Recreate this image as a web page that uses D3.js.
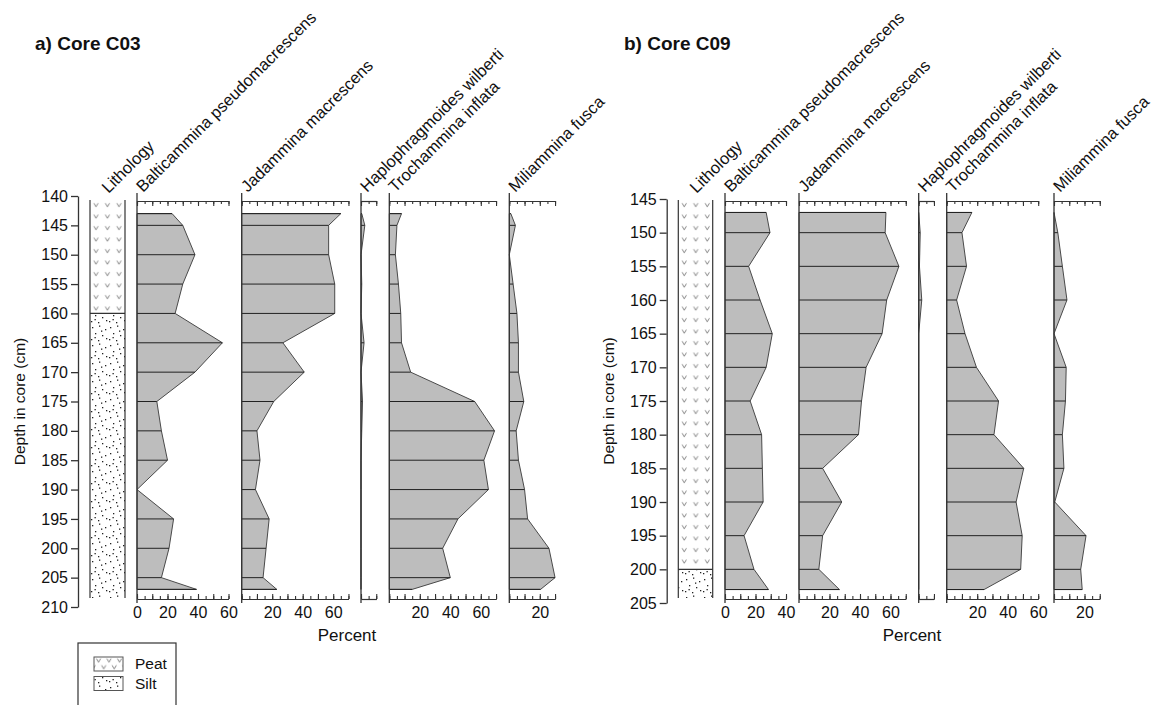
<!DOCTYPE html>
<html>
<head>
<meta charset="utf-8">
<script src="https://cdn.jsdelivr.net/npm/d3@7"></script>
<style>
  body { margin: 0; background: #fff; }
  svg text { font-family: "Liberation Sans", Arial, sans-serif; fill: #111; }
</style>
</head>
<body>
<svg id="chart" width="1160" height="705"></svg>
<script>
// ---- Foraminifera percentages by depth ----
const taxa = ["Balticammina pseudomacrescens", "Jadammina macrescens",
              "Haplophragmoides wilberti", "Trochammina inflata", "Miliammina fusca"];

// Core C03
const depthsC03    = [143, 145, 150, 155, 160, 165, 170, 175, 180, 185, 190, 195, 200, 205, 207];
const balticC03    = [23, 30, 38, 30, 25, 56, 38, 13, 16, 20, 0, 24, 21, 16, 39];
const jadamminaC03 = [65, 57, 57, 61, 61, 27, 41, 21, 10, 12, 9, 18, 16, 14, 23];
const haploC03     = [0.5, 2.5, 0, 0.5, 0, 2, 0, 1, 0.5, 0, 0, 0, 0, 0, 0];
const trochC03     = [8, 5, 4, 6, 7.5, 8, 14, 56, 69, 62, 65, 45, 35, 40, 15];
const miliC03      = [1, 4, 0, 2.5, 5, 6, 6, 9.5, 4.5, 6, 10, 12, 26, 30, 20.5];
const depthTicksC03 = [140, 145, 150, 155, 160, 165, 170, 175, 180, 185, 190, 195, 200, 205, 210];
const pctMaxC03     = [60, 70, 10, 70, 30];
const pctLabelsC03  = [[0, 20, 40, 60], [20, 40, 60], [], [20, 40, 60], [20]];
const lithUnitsC03  = ["Peat", "Silt"];
const lithContactC03 = 160;

// Core C09
const depthsC09    = [147, 150, 155, 160, 165, 170, 175, 180, 185, 190, 195, 200, 203];
const balticC09    = [27, 29.5, 15.5, 23, 31, 27, 16.5, 24, 24.5, 25, 12.5, 19, 28.5];
const jadamminaC09 = [57, 56.5, 65.5, 57.5, 54.5, 44, 41, 39, 15.5, 28, 15.5, 13, 26.5];
const haploC09     = [0, 1, 0.5, 2, 0, 0, 0, 0, 0, 0, 0, 0, 0];
const trochC09     = [16.5, 10, 13, 6.5, 12, 19.5, 34, 31, 50.5, 45.5, 49.5, 48.5, 24.5];
const miliC09      = [0, 2.5, 5.5, 8.5, 0, 8, 7.5, 5.5, 6.5, 0.5, 21, 17.5, 18.5];
const depthTicksC09 = [145, 150, 155, 160, 165, 170, 175, 180, 185, 190, 195, 200, 205];
const pctMaxC09     = [40, 70, 10, 60, 30];
const pctLabelsC09  = [[0, 20, 40], [20, 40, 60], [], [20, 40, 60], [20]];
const lithUnitsC09  = ["Peat", "Silt"];
const lithContactC09 = 200;

// ---- layout ----
const PX_PER_PCT = 1.525;
const FRAME_TOP = 201, FRAME_BOTTOM = 599;
const FONT = '"Liberation Sans", Arial, sans-serif';

const panels = [
  {
    title: "a) Core C03", titleX: 35,
    depths: depthsC03, depthTicks: depthTicksC03,
    yRange: [196, 607], axisX: 78, depthLabelX: 20,
    lith: { x0: 90, x1: 125, units: lithUnitsC03, contact: lithContactC03 },
    series: [balticC03, jadamminaC03, haploC03, trochC03, miliC03],
    colX: [137, 241.7, 361, 389.3, 509.3],
    maxes: pctMaxC03, labels: pctLabelsC03, percentX: 347
  },
  {
    title: "b) Core C09", titleX: 624,
    depths: depthsC09, depthTicks: depthTicksC09,
    yRange: [199, 603], axisX: 666.7, depthLabelX: 609,
    lith: { x0: 678.3, x1: 712.7, units: lithUnitsC09, contact: lithContactC09 },
    series: [balticC09, jadamminaC09, haploC09, trochC09, miliC09],
    colX: [725, 799, 918.7, 946.7, 1054],
    maxes: pctMaxC09, labels: pctLabelsC09, percentX: 912
  }
];

const svg = d3.select("#chart");
const defs = svg.append("defs");

function vMark(sel, cx, cy) {
  sel.append("path")
    .attr("d", `M${cx - 2.1},${cy - 1.8} L${cx},${cy + 1.8} L${cx + 2.1},${cy - 1.8}`)
    .attr("fill", "none").attr("stroke", "#666").attr("stroke-width", 0.8);
}

// Peat (column): rows of "v" marks, anchored to each column's left edge
function peatPattern(id, x0, y0) {
  const pat = defs.append("pattern").attr("id", id)
    .attr("patternUnits", "userSpaceOnUse").attr("width", 11.5).attr("height", 11.5)
    .attr("patternTransform", `translate(${x0},${y0})`);
  vMark(pat, 6, 5);
  return `url(#${id})`;
}
// Peat (legend swatch): staggered "v" marks
const peatKey = defs.append("pattern").attr("id", "peatKey")
  .attr("patternUnits", "userSpaceOnUse").attr("width", 10.5).attr("height", 13.4)
  .attr("patternTransform", "translate(94,657)");
vMark(peatKey, 4.5, 3.4);
vMark(peatKey, 9.75, 10.1);
vMark(peatKey, -0.75, 10.1);

// Silt: scattered fine dots
const silt = defs.append("pattern").attr("id", "silt")
  .attr("patternUnits", "userSpaceOnUse").attr("width", 18).attr("height", 18);
[[2, 3], [9, 1.5], [15, 5], [5, 9], [12, 11], [1, 15], [8, 16], [16, 14], [11, 6.5], [4.5, 13]]
  .forEach(([px, py]) => {
    silt.append("rect").attr("x", px).attr("y", py)
      .attr("width", 1.3).attr("height", 1.3).attr("fill", "#222");
  });

panels.forEach((p, pi) => {
  const g = svg.append("g");
  const y = d3.scaleLinear().domain([p.depthTicks[0], p.depthTicks[p.depthTicks.length - 1]]).range(p.yRange);

  // title
  g.append("text").attr("x", p.titleX).attr("y", 50)
    .attr("font-size", 19).attr("font-weight", "bold").text(p.title);

  // depth axis
  const yAxis = g.append("g").attr("transform", `translate(${p.axisX},0)`)
    .call(d3.axisLeft(y).tickValues(p.depthTicks).tickSize(7).tickSizeOuter(0).tickPadding(3));
  yAxis.selectAll("path, line").attr("stroke", "#333").attr("stroke-width", 1.3);
  yAxis.selectAll("text").attr("font-size", 16).attr("fill", "#111").style("font-family", FONT);

  g.append("text")
    .attr("transform", `translate(${p.depthLabelX},${(p.yRange[0] + p.yRange[1]) / 2}) rotate(-90)`)
    .attr("text-anchor", "middle").attr("dy", "0.35em").attr("font-size", 15.5)
    .text("Depth in core (cm)");

  // lithology column
  const L = p.lith;
  const yTop = FRAME_TOP - 1, yBot = FRAME_BOTTOM - 1, yC = y(L.contact);
  const fills = { Peat: peatPattern("peat" + pi, L.x0, yTop), Silt: "url(#silt)" };
  g.append("rect").attr("x", L.x0).attr("y", yTop).attr("width", L.x1 - L.x0)
    .attr("height", yC - yTop).attr("fill", fills[L.units[0]]);
  g.append("rect").attr("x", L.x0).attr("y", yC).attr("width", L.x1 - L.x0)
    .attr("height", yBot - yC).attr("fill", fills[L.units[1]]);
  [L.x0, L.x1].forEach(xx => g.append("line").attr("x1", xx).attr("x2", xx)
    .attr("y1", yTop).attr("y2", yBot).attr("stroke", "#333").attr("stroke-width", 1.2));
  g.append("line").attr("x1", L.x0).attr("x2", L.x1).attr("y1", yC).attr("y2", yC)
    .attr("stroke", "#333").attr("stroke-width", 1.2);
  g.append("text")
    .attr("transform", `translate(${(L.x0 + L.x1) / 2 + 1},194) rotate(-45)`)
    .attr("font-size", 16.5).text("Lithology");

  // taxon columns
  p.series.forEach((vals, i) => {
    const x0 = p.colX[i];
    const x = d3.scaleLinear().domain([0, p.maxes[i]]).range([x0, x0 + p.maxes[i] * PX_PER_PCT]);
    const pts = p.depths.map((d, j) => ({ d, v: vals[j] }));

    const area = d3.area().x0(x(0)).x1(e => x(e.v)).y(e => y(e.d));
    g.append("path").datum(pts).attr("d", area)
      .attr("fill", "#bdbdbd").attr("stroke", "#4a4a4a").attr("stroke-width", 1);

    g.selectAll(null).data(pts).enter().append("line")
      .attr("x1", x(0)).attr("x2", e => x(e.v))
      .attr("y1", e => y(e.d)).attr("y2", e => y(e.d))
      .attr("stroke", "#222").attr("stroke-width", 1);

    // left baseline
    g.append("line").attr("x1", x0).attr("x2", x0).attr("y1", 193).attr("y2", 603)
      .attr("stroke", "#333").attr("stroke-width", 1.3);

    const minor = d3.range(0, p.maxes[i] + 0.01, 5);
    const major = d3.range(0, p.maxes[i] + 0.01, 10);

    // top scale (ticks pointing down)
    const top = g.append("g").attr("transform", `translate(0,${FRAME_TOP})`)
      .call(d3.axisTop(x).tickValues(minor).tickSize(-3).tickSizeOuter(0).tickFormat(""));
    top.append("g").call(d3.axisTop(x).tickValues(major).tickSize(-5).tickSizeOuter(0).tickFormat(""));
    top.selectAll("path, line").attr("stroke", "#333").attr("stroke-width", 1.1);

    // bottom scale (ticks pointing up, labels below)
    const bot = g.append("g").attr("transform", `translate(0,${FRAME_BOTTOM})`)
      .call(d3.axisBottom(x).tickValues(minor).tickSize(-3).tickSizeOuter(0).tickFormat(""));
    bot.append("g").call(d3.axisBottom(x).tickValues(major).tickSize(-5).tickSizeOuter(0)
      .tickPadding(8).tickFormat(v => p.labels[i].includes(v) ? v : ""));
    bot.selectAll("path, line").attr("stroke", "#333").attr("stroke-width", 1.1);
    bot.selectAll("text").attr("font-size", 16).attr("fill", "#111").style("font-family", FONT);

    // rotated taxon name
    g.append("text")
      .attr("transform", `translate(${x0 + 6},193) rotate(-45)`)
      .attr("font-size", 16.5).text(taxa[i]);
  });

  g.append("text").attr("x", p.percentX).attr("y", 641)
    .attr("text-anchor", "middle").attr("font-size", 17).text("Percent");
});

// legend
const legendFill = { Peat: "url(#peatKey)", Silt: "url(#silt)" };
const leg = svg.append("g");
leg.append("rect").attr("x", 78).attr("y", 643).attr("width", 98).attr("height", 80)
  .attr("fill", "#fff").attr("stroke", "#333").attr("stroke-width", 1.2);
lithUnitsC03.forEach((u, i) => {
  leg.append("rect").attr("x", 94).attr("y", 657 + i * 19.5).attr("width", 29).attr("height", 14)
    .attr("fill", legendFill[u]).attr("stroke", "#555").attr("stroke-width", 1);
  leg.append("text").attr("x", 135).attr("y", 669 + i * 19.5).attr("font-size", 15.5).text(u);
});
</script>
</body>
</html>
